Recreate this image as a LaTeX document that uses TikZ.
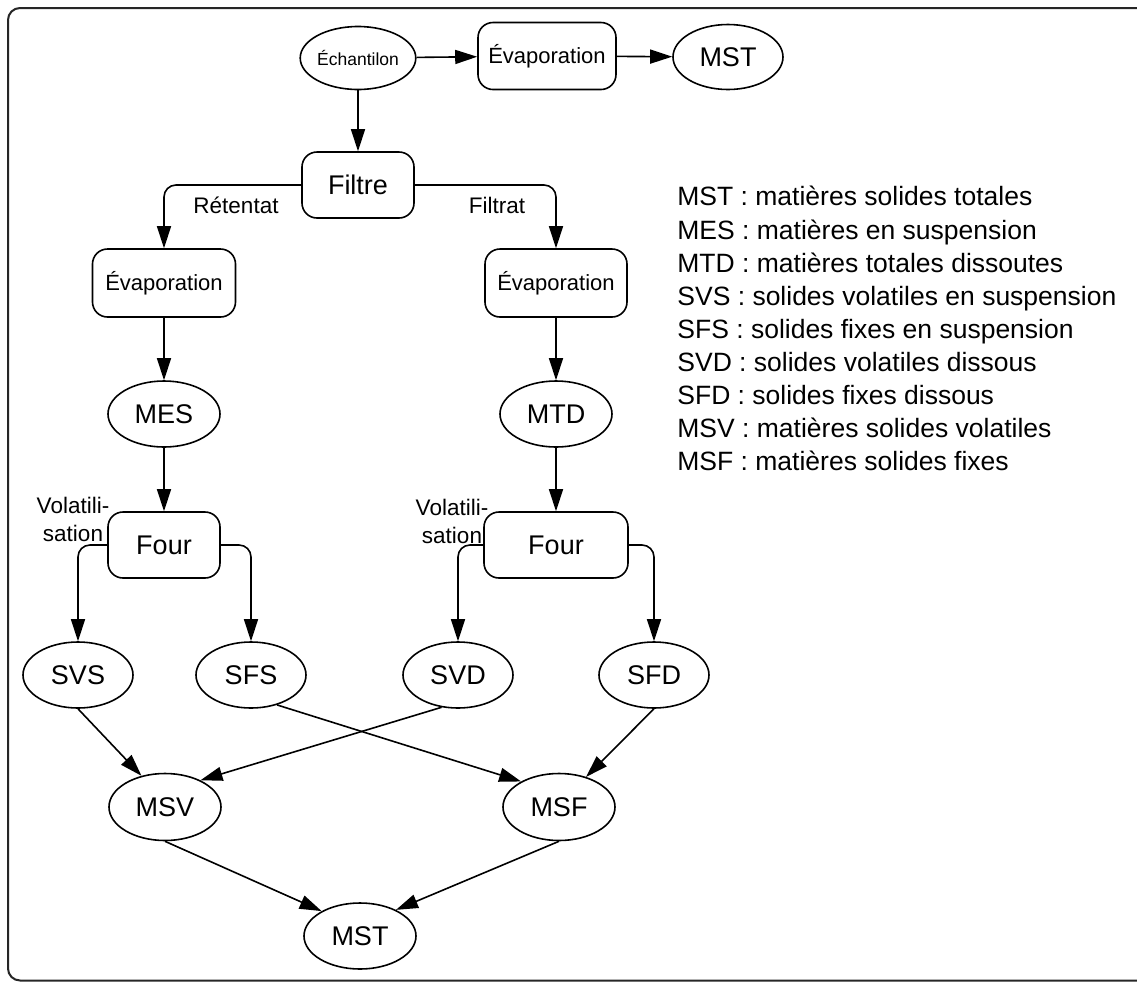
\documentclass[tikz,border=0pt]{standalone}
\usepackage{fontspec}
\setmainfont{Liberation Sans}
\usetikzlibrary{arrows.meta,shapes.geometric}
\tikzset{
  state/.style={ellipse,draw,line width=0.8pt,minimum width=55pt,minimum height=33pt,inner sep=0pt,
                font=\fontsize{13.5}{16}\selectfont},
  proc/.style={rectangle,draw,line width=0.8pt,rounded corners=7.5pt,minimum width=56pt,minimum height=33pt,
               inner sep=0pt,font=\fontsize{13.5}{16}\selectfont},
  midtext/.style={font=\fontsize{11}{13}\selectfont},
  tinytext/.style={font=\fontsize{8.75}{10}\selectfont},
  elabel/.style={font=\fontsize{11.25}{14}\selectfont,align=center,inner sep=0pt},
  legend/.style={font=\fontsize{13.25}{16.55}\selectfont,align=left,inner sep=0pt},
  edge/.style={-{Triangle[length=11pt,width=7pt]},line width=0.8pt},
  bentedge/.style={edge,rounded corners=6pt},
  frame/.style={draw,line width=1pt,rounded corners=6pt,black!85},
}
\begin{document}
\begin{tikzpicture}[x=0.5pt,y=-0.5pt]
  \useasboundingbox (0,0) rectangle (1137,982);
  \draw[frame] (8,8) rectangle (1150,980.5);
  % ---- sample and direct evaporation ----
  \node[state,tinytext,minimum width=55pt,minimum height=31.5pt] (ech) at (358,58) {Échantilon};
  \node[proc,midtext,minimum width=69pt,minimum height=33.5pt] (evapT) at (547,56) {Évaporation};
  \node[state,minimum height=32.5pt] (mstT) at (728,57) {MST};
  \node[proc] (filtre) at (358,185) {Filtre};
  % ---- retentate branch ----
  \node[proc,midtext,minimum width=71.5pt,minimum height=34pt] (evapR) at (164,283) {Évaporation};
  \node[state,minimum width=56pt] (mes) at (164,414) {MES};
  \node[proc] (fourS) at (164,545) {Four};
  \node[state] (svs) at (78,675) {SVS};
  \node[state] (sfs) at (251,675) {SFS};
  % ---- filtrate branch ----
  \node[proc,midtext,minimum width=71pt,minimum height=34pt] (evapF) at (556,283) {Évaporation};
  \node[state,minimum width=56pt] (mtd) at (556,414) {MTD};
  \node[proc,minimum width=72pt] (fourD) at (556,545) {Four};
  \node[state] (svd) at (458,675) {SVD};
  \node[state] (sfd) at (654,675) {SFD};
  % ---- totals ----
  \node[state,minimum width=56pt,minimum height=33.5pt] (msv) at (165,807) {MSV};
  \node[state,minimum width=56pt,minimum height=33.5pt] (msf) at (559,807) {MSF};
  \node[state,minimum width=56pt] (mstB) at (360,936) {MST};
  % ---- labels ----
  \node[elabel] (lretentat) at (236,205) {Rétentat};
  \node[elabel] (lfiltrat) at (497,205) {Filtrat};
  \node[elabel] (lvolS) at (73,519) {Volatili-\\sation};
  \node[elabel] (lvolD) at (452,521) {Volatili-\\sation};
  \node[legend,anchor=north west] (leg) at (677,186) {MST : matières solides totales\\
    MES : matières en suspension\\
    MTD : matières totales dissoutes\\
    SVS : solides volatiles en suspension\\
    SFS : solides fixes en suspension\\
    SVD : solides volatiles dissous\\
    SFD : solides fixes dissous\\
    MSV : matières solides volatiles\\
    MSF : matières solides fixes};
  % ---- edges ----
  \draw[edge] (ech) -- (evapT);
  \draw[edge] (evapT) -- (mstT);
  \draw[edge] (ech) -- (filtre);
  \draw[bentedge] (filtre.west) -| (evapR.north);
  \draw[bentedge] (filtre.east) -| (evapF.north);
  \draw[edge] (evapR) -- (mes);
  \draw[edge] (evapF) -- (mtd);
  \draw[edge] (mes) -- (fourS);
  \draw[edge] (mtd) -- (fourD);
  \draw[bentedge] (fourS.west) -| (svs.north);
  \draw[bentedge] (fourS.east) -| (sfs.north);
  \draw[bentedge] (fourD.west) -| (svd.north);
  \draw[bentedge] (fourD.east) -| (sfd.north);
  \draw[edge] (svs.south) -- (msv.127);
  \draw[edge] (svd.-117) -- (msv.37);
  \draw[edge] (sfs.-49) -- (msf.146);
  \draw[edge] (sfd.south) -- (msf.48);
  \draw[edge] (msv.south) -- (mstB.147);
  \draw[edge] (msf.south) -- (mstB.36);
\end{tikzpicture}
\end{document}
